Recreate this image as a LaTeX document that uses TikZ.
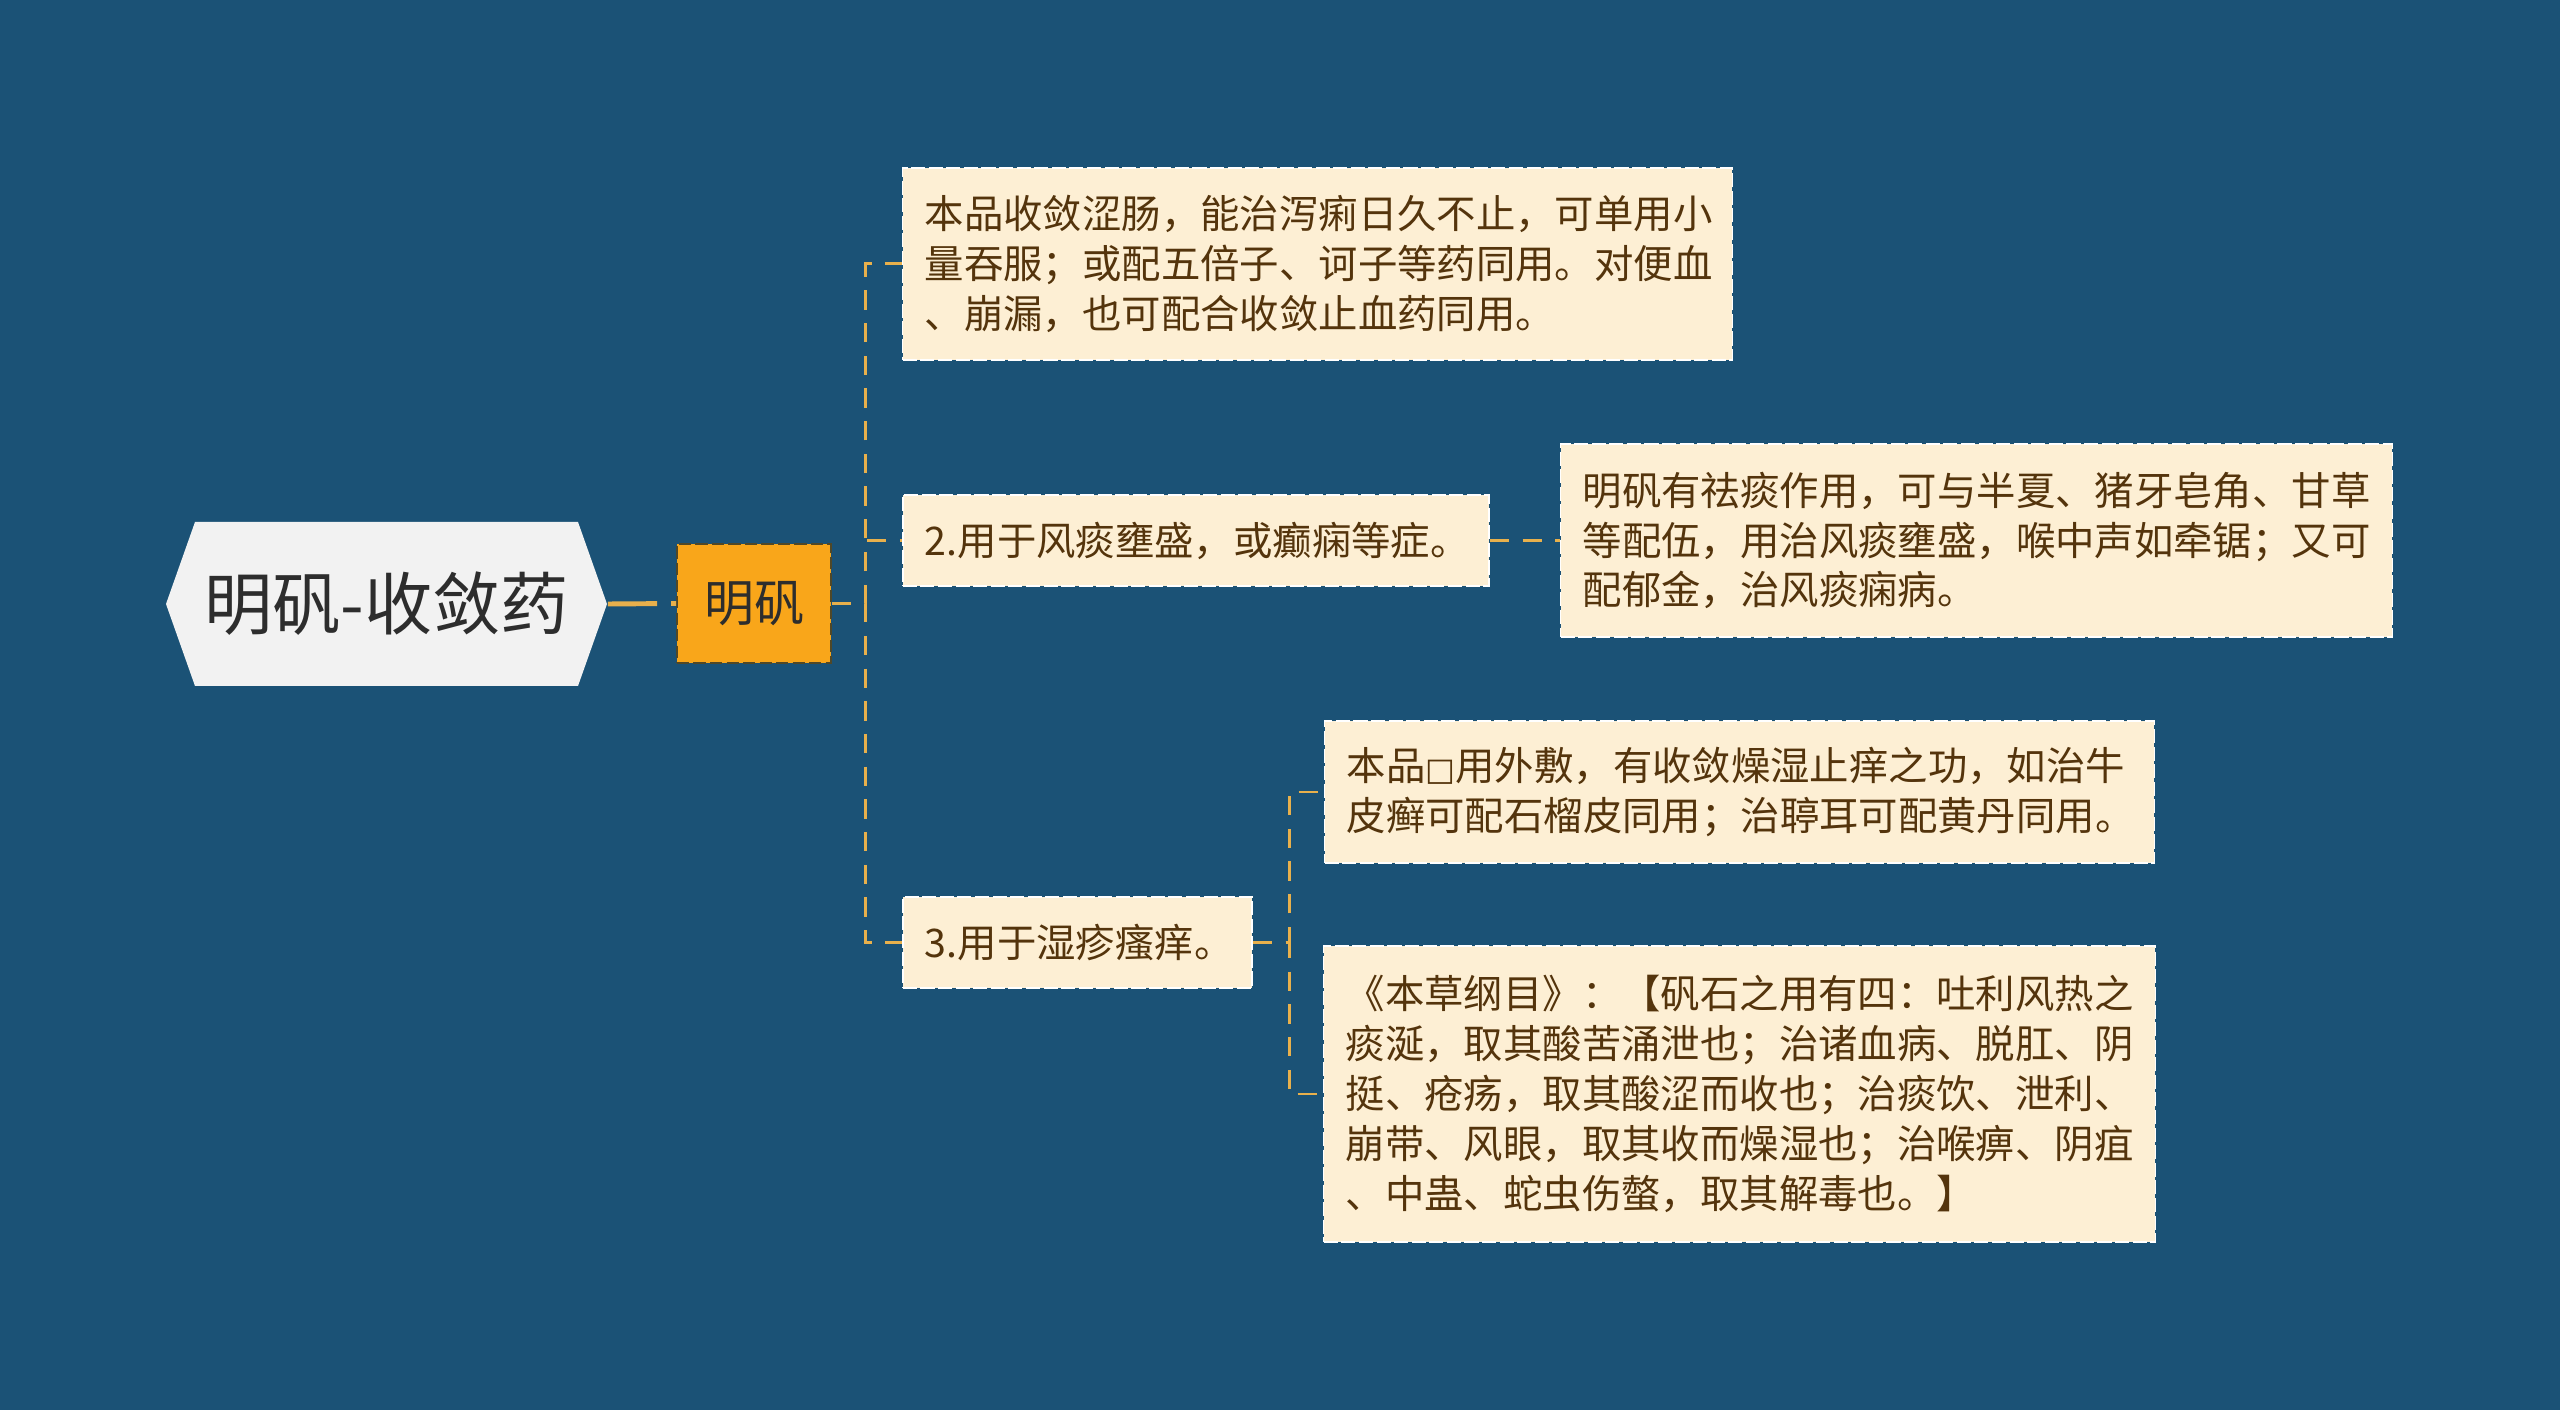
\documentclass[tikz,border=0pt]{standalone}
\usepackage{fontspec}
\setmainfont{Noto Sans CJK SC}
\newfontfamily\symfont{DejaVu Sans}
\usetikzlibrary{calc}

\definecolor{bgblue}{RGB}{27,82,118}
\definecolor{linkgold}{RGB}{232,176,76}
\definecolor{boxcream}{RGB}{253,239,212}
\definecolor{textbrown}{RGB}{84,52,12}
\definecolor{tagorange}{RGB}{249,166,26}
\definecolor{tagedge}{RGB}{80,72,40}
\definecolor{rootgray}{RGB}{242,242,242}
\definecolor{rootink}{RGB}{45,45,45}

\begin{document}
\begin{tikzpicture}[x=0.01cm,y=-0.01cm,
    leaf/.style={fill=boxcream,draw=white,line width=0.4pt,dash pattern=on 4pt off 1pt,
        text=textbrown,font=\fontsize{11.2}{14.2}\selectfont,align=left,
        inner xsep=0.22cm,inner ysep=0pt},
    link/.style={draw=linkgold,line width=0.85pt,dash pattern=on 5.5pt off 3.8pt}]

    % Background
    \fill[bgblue] (0,0) rectangle (2560,1410);

    % Root
    \fill[rootgray] (166,604) -- (195,522) -- (578,522) -- (607,604) -- (578,686) -- (195,686) -- cycle;
    \node[minimum width=4.41cm,minimum height=1.64cm,inner sep=0pt,text=rootink,
        font=\fontsize{19.4}{23}\selectfont] (root) at (386.5,604) {明矾-收敛药};

    % Main topic
    \node[fill=tagorange,draw=tagedge,line width=0.5pt,dash pattern=on 3.5pt off 1.2pt,
        minimum width=1.54cm,minimum height=1.19cm,inner sep=0pt,text=rootink,
        font=\fontsize{14.2}{17}\selectfont] (alum) at (754,603.5) {明矾};

    % Uses
    \node[leaf,text width=7.85cm,minimum height=1.92cm] (use1) at (1317.5,264)
        {本品收敛涩肠，能治泻痢日久不止，可单用小\\量吞服；或配五倍子、诃子等药同用。对便血\\、崩漏，也可配合收敛止血药同用。};
    \node[leaf,text width=5.42cm,minimum height=0.91cm] (use2) at (1196,540.5)
        {2.用于风痰壅盛，或癫痫等症。};
    \node[leaf,text width=3.05cm,minimum height=0.91cm] (use3) at (1077.5,942.5)
        {3.用于湿疹瘙痒。};

    % Notes
    \node[leaf,text width=7.87cm,minimum height=1.93cm] (note2) at (1976.5,540.5)
        {明矾有祛痰作用，可与半夏、猪牙皂角、甘草\\等配伍，用治风痰壅盛，喉中声如牵锯；又可\\配郁金，治风痰痫病。};
    \node[leaf,text width=7.85cm,minimum height=1.42cm] (note3a) at (1739.5,792)
        {本品{\symfont\small □}用外敷，有收敛燥湿止痒之功，如治牛\\皮癣可配石榴皮同用；治聤耳可配黄丹同用。};
    \node[leaf,text width=7.87cm,minimum height=2.96cm] (note3b) at (1739.5,1094)
        {《本草纲目》：【矾石之用有四：吐利风热之\\痰涎，取其酸苦涌泄也；治诸血病、脱肛、阴\\挺、疮疡，取其酸涩而收也；治痰饮、泄利、\\崩带、风眼，取其收而燥湿也；治喉痹、阴疽\\、中蛊、蛇虫伤螫，取其解毒也。】};

    % Links
    \draw[link,line width=1.4pt,dash pattern=on 14pt off 4pt] (root.east) -- (alum.west);
    \coordinate (trunk_a) at (865,603.5);
    \draw[link] (alum.east) -- (trunk_a) |- (use1.west);
    \draw[link] (alum.east) -- (trunk_a) |- (use2.west);
    \draw[link] (alum.east) -- (trunk_a) |- (use3.west);
    \draw[link] (use2.east) -- (note2.west);
    \coordinate (trunk_b) at (1289,942.5);
    \draw[link] (use3.east) -- (trunk_b) |- (note3a.west);
    \draw[link] (use3.east) -- (trunk_b) |- (note3b.west);

\end{tikzpicture}
\end{document}
